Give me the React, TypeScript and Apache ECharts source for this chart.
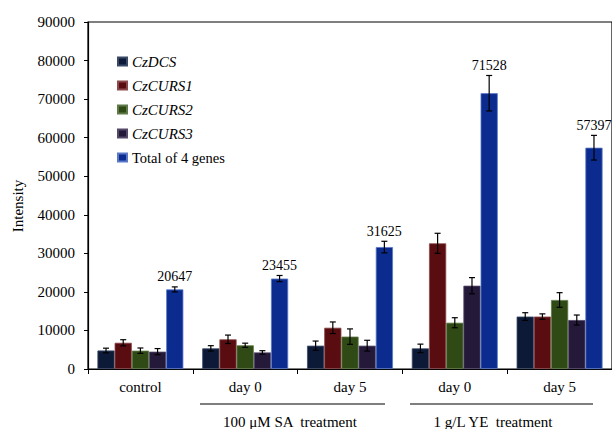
import React, { useEffect, useRef } from "react";
import * as echarts from "echarts";

const categories = ["control", "day 0", "day 5", "day 0", "day 5"];
const seriesNames = ["CzDCS", "CzCURS1", "CzCURS2", "CzCURS3", "Total of 4 genes"];
const czDCS = [4800, 5350, 6050, 5350, 13600];
const czDCSErr = [600, 700, 1200, 1100, 1000];
const czCURS1 = [6800, 7700, 10700, 32600, 13600];
const czCURS1Err = [800, 1100, 1500, 2600, 700];
const czCURS2 = [4750, 6150, 8400, 12000, 17900];
const czCURS2Err = [700, 550, 2000, 1300, 1900];
const czCURS3 = [4500, 4300, 6050, 21600, 12700];
const czCURS3Err = [800, 450, 1400, 2100, 1300];
const total = [20647, 23455, 31625, 71528, 57397];
const totalErr = [650, 800, 1500, 4600, 3200];
const groupLabels = ["100 \u03bcM SA  treatment", "1 g/L YE  treatment"];

const colors = ["#0c1a38", "#5a0d10", "#2f4a14", "#25193a", "#0b2b8e"];
const borders = ["#3a4a66", "#8a4a4c", "#5f7a48", "#55496a", "#5b78c8"];

const FONT = "Liberation Serif";
const GAP = 0.18;

export default function App() {
  const ref = useRef<HTMLDivElement>(null);
  useEffect(() => {
    document.body.style.margin = "0";
    const chart = echarts.init(ref.current!, null, { renderer: "svg" });
    const values = [czDCS, czCURS1, czCURS2, czCURS3, total];
    const errs = [czDCSErr, czCURS1Err, czCURS2Err, czCURS3Err, totalErr];

    const barSeries = values.map((v, i) => ({
      name: seriesNames[i],
      type: "bar",
      data: v,
      barGap: "0%",
      barCategoryGap: "18%",
      itemStyle: { color: colors[i], borderColor: borders[i], borderWidth: 0.8 },
      z: 2,
    }));

    const errSeries = values.map((v, i) => ({
      type: "custom",
      data: v.map((val, j) => [j, val, errs[i][j]]),
      z: 5,
      silent: true,
      renderItem: (params: any, api: any) => {
        const idx = api.value(0);
        const val = api.value(1);
        const e = api.value(2);
        const band = api.size([1, 0])[0];
        const bw = (band * (1 - GAP)) / 5;
        const cx = api.coord([idx, val])[0] + (i - 2) * bw;
        const yTop = api.coord([idx, val + e])[1];
        const yBot = api.coord([idx, val - e])[1];
        const cap = 3;
        const st = { stroke: "#000", lineWidth: 1.2 };
        const children: any[] = [
          { type: "line", shape: { x1: cx, y1: yTop, x2: cx, y2: yBot }, style: st },
          { type: "line", shape: { x1: cx - cap, y1: yTop, x2: cx + cap, y2: yTop }, style: st },
          { type: "line", shape: { x1: cx - cap, y1: yBot, x2: cx + cap, y2: yBot }, style: st },
        ];
        if (i === 4) {
          children.push({
            type: "text",
            style: {
              text: String(val),
              x: cx,
              y: yTop - 10,
              align: "center",
              verticalAlign: "middle",
              fontSize: 14,
              fontFamily: FONT,
              fill: "#000",
            },
          });
        }
        return { type: "group", children };
      },
    }));

    const legendData = seriesNames.map((n) => ({ name: n }));

    chart.setOption({
      animation: false,
      backgroundColor: "#fff",
      textStyle: { fontFamily: FONT },
      grid: {
        left: 88,
        right: -1,
        top: 22,
        bottom: 60,
        show: true,
        borderColor: "#000",
        borderWidth: 1.2,
        backgroundColor: "transparent",
      },
      legend: {
        data: legendData,
        orient: "vertical",
        left: 112,
        top: 49,
        itemWidth: 9,
        itemHeight: 8,
        itemGap: 9,
        icon: "rect",
        formatter: (name: string) =>
          name.startsWith("Cz") ? "{i|" + name + "}" : "{n|" + name + "}",
        textStyle: {
          fontFamily: FONT,
          fontSize: 15,
          color: "#000",
          rich: {
            i: { fontStyle: "italic", fontSize: 15, fontFamily: FONT, color: "#000", lineHeight: 16 },
            n: { fontSize: 14.5, fontFamily: FONT, color: "#000", lineHeight: 16 },
          },
        },
      },
      xAxis: {
        type: "category",
        data: categories,
        axisLine: { lineStyle: { color: "#000", width: 1.2 } },
        axisTick: { show: true, length: 5, lineStyle: { color: "#000" } },
        axisLabel: { fontFamily: FONT, fontSize: 15, color: "#000", margin: 10 },
      },
      yAxis: {
        type: "value",
        min: 0,
        max: 90000,
        interval: 10000,
        axisLine: { show: true, lineStyle: { color: "#000", width: 1.2 } },
        axisTick: { show: true, length: 4, lineStyle: { color: "#000" } },
        splitLine: { show: false },
        axisLabel: {
          fontFamily: FONT,
          fontSize: 15,
          color: "#000",
          margin: 13,
          formatter: (v: number) => String(v),
        },
      },
      graphic: [
        {
          type: "text",
          x: 18,
          y: 206,
          rotation: Math.PI / 2,
          style: {
            text: "Intensity",
            fontFamily: FONT,
            fontSize: 15,
            fill: "#000",
            align: "center",
            verticalAlign: "middle",
          },
        },
        { type: "line", shape: { x1: 200, y1: 404, x2: 385, y2: 404 }, style: { stroke: "#000", lineWidth: 1.2 } },
        { type: "line", shape: { x1: 410, y1: 404, x2: 593, y2: 404 }, style: { stroke: "#000", lineWidth: 1.2 } },
        {
          type: "text",
          x: 290,
          y: 422,
          style: { text: groupLabels[0], fontFamily: FONT, fontSize: 15, fill: "#000", align: "center", verticalAlign: "middle" },
        },
        {
          type: "text",
          x: 493,
          y: 422,
          style: { text: groupLabels[1], fontFamily: FONT, fontSize: 15, fill: "#000", align: "center", verticalAlign: "middle" },
        },
      ],
      series: [...barSeries, ...errSeries],
    });
    return () => chart.dispose();
  }, []);
  return <div ref={ref} style={{ width: 612, height: 429 }} />;
}
